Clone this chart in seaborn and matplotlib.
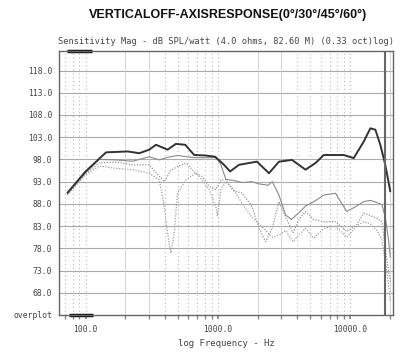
import matplotlib
matplotlib.use("Agg")
import matplotlib.pyplot as plt
import matplotlib.transforms as mtransforms
import seaborn as sns
import numpy as np
import pandas as pd

# ---------------- data ----------------
freq_0 = [73, 100, 143, 208, 255, 303, 341, 417, 482, 567, 663, 801, 955, 1096, 1238, 1447,
          1977, 2436, 2899, 3633, 4605, 5478, 6325, 8953, 10650, 12670, 14220, 15520, 16920,
          18450, 20130]
spl_0 = [90.5, 95.3, 99.6, 99.8, 99.4, 100.2, 101.3, 100.2, 101.5, 101.3, 99.0, 98.9, 98.6,
         97.0, 95.3, 96.8, 97.5, 94.9, 97.5, 97.9, 95.7, 97.2, 99.0, 99.0, 98.3, 102.0, 105.0,
         104.7, 101.3, 96.8, 90.8]

freq_30 = [73, 100, 127, 170, 227, 303, 361, 420, 500, 580, 683, 800, 966, 1050, 1150, 1300,
           1530, 1813, 2048, 2400, 2580, 2897, 3254, 3600, 4100, 4600, 5318, 6325, 7750, 9428,
           11214, 12660, 14220, 15950, 17390, 18450, 19500, 20130]
spl_30 = [90.4, 95.0, 98.0, 97.9, 97.6, 98.6, 97.9, 98.5, 98.9, 98.6, 98.4, 98.4, 98.4, 97.0,
          93.5, 93.3, 92.8, 93.0, 92.5, 92.2, 93.0, 90.0, 85.5, 84.5, 86.0, 87.5, 88.5, 90.0,
          90.4, 86.3, 87.5, 88.5, 88.8, 88.3, 87.8, 85.0, 80.0, 76.0]

freq_45 = [73, 100, 127, 170, 227, 303, 361, 394, 440, 500, 574, 683, 760, 860, 966, 1053,
           1149, 1300, 1532, 1813, 2048, 2300, 2579, 2897, 3254, 3700, 4100, 4600, 5318, 6325,
           7750, 9428, 11214, 12660, 15950, 17390, 18450, 19500, 20130]
spl_45 = [90.2, 94.8, 97.2, 97.4, 96.8, 96.8, 94.2, 93.0, 95.5, 96.5, 97.2, 94.9, 94.2, 91.9,
          91.2, 93.4, 93.4, 91.0, 90.4, 87.4, 82.5, 79.5, 82.5, 88.5, 85.0, 81.5, 84.5, 86.3,
          84.5, 84.0, 84.0, 81.8, 83.3, 85.9, 84.8, 84.0, 78.0, 73.0, 70.5]

freq_60 = [73, 100, 127, 170, 227, 303, 361, 394, 417, 442, 468, 496, 574, 683, 760, 860, 966,
           993, 1053, 1149, 1300, 1532, 1813, 2048, 2300, 2579, 2897, 3254, 3700, 4100, 4600,
           5318, 6325, 7750, 9428, 11214, 12660, 14220, 15950, 17390, 18450, 19500, 20130]
spl_60 = [90.0, 94.5, 96.5, 96.0, 95.7, 94.9, 93.4, 87.4, 81.4, 76.9, 81.4, 90.4, 93.4, 94.9,
          93.4, 91.2, 87.4, 85.2, 91.2, 93.0, 91.5, 88.0, 85.0, 83.5, 82.0, 80.5, 81.0, 82.0,
          79.5, 81.0, 82.5, 80.3, 82.5, 83.0, 80.5, 83.0, 84.0, 83.5, 82.0, 80.0, 75.0, 70.0,
          66.0]

y_ticks = [63, 68, 73, 78, 83, 88, 93, 98, 103, 108, 113, 118]
y_tick_labels = ["overplot", "68.0", "73.0", "78.0", "83.0", "88.0", "93.0", "98.0",
                 "103.0", "108.0", "113.0", "118.0"]
x_ticks = [100, 1000, 10000]
x_tick_labels = ["100.0", "1000.0", "10000.0"]
marker_freq = 18450

title = "VERTICALOFF-AXISRESPONSE(0°/30°/45°/60°)"
subtitle = "Sensitivity Mag - dB SPL/watt (4.0 ohms, 82.60 M) (0.33 oct)log)"
xlabel = "log Frequency - Hz"

# ---------------- plot ----------------
sns.set_theme(style="white")
plt.rcParams['font.family'] = ['DejaVu Sans Mono', 'DejaVu Sans']

fig = plt.figure(figsize=(4.03, 3.54), dpi=100)
ax = fig.add_axes([59 / 403, 1 - 315 / 354, (393 - 59) / 403, (315 - 51) / 354])
ax.set_xscale('log')
ax.set_xlim(63, 21100)
ax.set_ylim(63, 122.4)

# grid
for yv in y_ticks[1:]:
    ax.axhline(yv, color='#aaaaaa', lw=0.8, zorder=0)
for dec in [10, 100, 1000, 10000]:
    for m in range(1, 10):
        f = dec * m
        if f <= 63 or f >= 21100:
            continue
        if m in (2, 3):
            ax.axvline(f, color='#cfcfcf', lw=0.6, zorder=0)
        else:
            ax.axvline(f, color='#b8b8b8', lw=0.8, ls=(0, (1, 2.5)), zorder=0)

series = [
    (freq_60, spl_60, '#a0a0a0', (0, (1, 1.2)), 0.9),
    (freq_45, spl_45, '#959595', (0, (1, 1.2)), 0.9),
    (freq_30, spl_30, '#8a8a8a', '-', 0.8),
    (freq_0, spl_0, '#333333', '-', 1.4),
]
for fx, sy, col, ls, lw in series:
    df = pd.DataFrame({"f": fx, "spl": sy})
    sns.lineplot(data=df, x="f", y="spl", ax=ax, color=col, linestyle=ls, lw=lw,
                 sort=False, estimator=None)

ax.axvline(marker_freq, color='#666666', lw=1.5, zorder=3)

# overplot marker bars
trans = mtransforms.blended_transform_factory(ax.transData, ax.transAxes)
ax.plot([73, 111], [1.0, 1.0], color='#111111', lw=2.5, transform=trans, clip_on=False,
        solid_capstyle='butt')
ax.plot([75, 113], [0.0, 0.0], color='#111111', lw=2.5, transform=trans, clip_on=False,
        solid_capstyle='butt')

ax.set_yticks(y_ticks)
ax.set_yticklabels(y_tick_labels)
ax.set_xticks(x_ticks)
ax.set_xticklabels(x_tick_labels)
ax.xaxis.set_minor_locator(matplotlib.ticker.LogLocator(base=10, subs=np.arange(2, 10)))
ax.xaxis.set_minor_formatter(matplotlib.ticker.NullFormatter())
ax.tick_params(axis='y', length=0, labelsize=5.8, labelcolor='#444444', pad=5)
ax.tick_params(axis='x', which='both', direction='out', length=3, color='#888888',
               bottom=True, labelsize=5.8, labelcolor='#444444', pad=4)

ax.set_xlabel(xlabel, fontsize=6.5, color='#444444', labelpad=4)
ax.set_ylabel("")
for sp in ax.spines.values():
    sp.set_color('#666666')
    sp.set_linewidth(1.0)

fig.text(228 / 403, 1 - 15 / 354, title, ha='center', va='center', fontsize=9,
         fontweight='bold', family=['Liberation Sans', 'DejaVu Sans'], color='#111111')
fig.text(226 / 403, 1 - 42 / 354, subtitle, ha='center', va='center', fontsize=6.2,
         color='#444444')

fig.savefig("out.png", dpi=100)
